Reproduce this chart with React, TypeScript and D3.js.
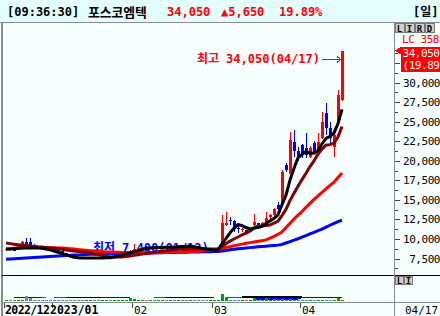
import React from 'react';
import * as d3 from 'd3';

// ---- data ----
const open = [8650,8700,8650,8600,8700,9650,9600,9200,9000,8900,8850,8800,
8700,8550,8400,8200,8000,7800,7650,7550,7500,7550,7600,7550,7500,7600,7650,7600,7750,7900,8100,8300,
8500,8750,8900,8950,8900,8950,8900,8950,9000,8950,9050,9000,9100,9050,8900,8950,8850,8750,8650,8600,
8650,8650,8800,11800,12400,12300,11450,11100,11100,10950,11800,12000,11700,11600,12800,13000,14300,14550,19450,18300,22450,21300,
22000,21600,20500,22250,21400,22900,26100,24200,21750,25050,27700];
const high = [8800,8750,8700,8750,9700,10100,10150,9300,9050,8950,8900,8850,
8750,8600,8450,8250,8050,7850,7700,7600,7600,7650,7650,7600,7650,7700,7700,7800,7950,8150,8350,8550,
9400,8950,9000,9050,9000,9050,9000,9100,9100,9100,9150,9150,9200,9100,9000,9000,8900,8800,8700,8700,
8750,8800,13100,13400,12800,12400,11600,11400,11200,11400,13200,12100,12200,13500,13200,14000,14700,18800,19700,23700,23900,21800,
22100,23550,21900,22500,23550,26230,27380,24950,23400,29040,34050];
const low = [8600,8600,8550,8550,8650,9000,9150,8950,8850,8800,8750,8700,
8500,8350,8150,7950,7750,7600,7500,7450,7400,7500,7500,7450,7450,7550,7550,7550,7700,7850,8050,8250,
8450,8700,8800,8850,8800,8850,8800,8900,8900,8900,8950,8950,9000,8850,8850,8800,8700,8600,8550,8550,
8600,8600,8750,11600,11800,10950,10800,10950,10700,10900,11700,11400,11600,11500,12600,12900,13600,14400,18500,18300,20500,20000,
20400,20350,20300,20900,21200,22800,23290,22270,20480,24900,27600];
const close = [8700,8650,8600,8700,9550,9050,9250,9000,8900,8850,8800,8750,
8550,8400,8200,8000,7800,7650,7550,7500,7550,7600,7550,7500,7600,7650,7600,7750,7900,8100,8300,8500,
8750,8900,8950,8900,8950,8900,8950,9000,8950,9050,9000,9100,9050,8900,8950,8850,8750,8650,8600,8650,
8650,8700,12000,12100,12250,11550,11300,11300,10900,11300,12200,11550,12100,12700,13000,13800,13800,18600,18800,22650,21300,20500,
20750,20750,21600,21100,22400,24950,24200,22900,23300,28400,34050];

const ma5 = [8700,8720,8750,8800,8830,8850,8850,8850,8830,8800,8700,8600,
8450,8300,8150,8000,7800,7650,7600,7570,7550,7550,7550,7560,7570,7580,7600,7700,7800,7950,8100,8220,
8350,8500,8650,8780,8850,8880,8900,8920,8930,8950,8980,9000,9030,9050,9100,9000,8900,8800,8720,8650,
8600,8650,9370,10070,10790,11360,11840,11700,11460,11270,11400,11450,11610,11970,12310,12630,13080,14380,15600,17530,19030,20370,
20800,21190,20980,20940,21320,22160,22850,23110,23550,24750,26570];
const ma10 = [9470,9400,9330,9260,9200,9150,9100,9050,9000,8980,8920,8860,
8800,8740,8670,8600,8530,8460,8390,8320,8260,8210,8100,8000,7900,7800,7700,7680,7680,7700,7750,7830,
7900,7980,8060,8140,8210,8280,8350,8420,8500,8570,8640,8700,8720,8730,8740,8740,8740,8730,8720,8720,
8710,8700,9070,9390,9720,9990,10245,10510,10740,11005,11360,11645,11655,11715,11790,12015,12265,12995,13785,14920,15830,16725,
17590,18395,19255,19985,20845,21480,22020,22045,22245,23035,24365];
const ma20 = [8680,8750,8820,8880,8910,8920,8930,8930,8920,8910,8900,8890,
8870,8850,8830,8800,8750,8700,8650,8600,8550,8500,8450,8390,8360,8340,8320,8300,8290,8280,8270,8260,
8250,8240,8230,8220,8210,8220,8240,8260,8280,8300,8320,8340,8360,8380,8400,8420,8440,8470,8520,8570,
8620,8660,8780,8900,9020,9130,9240,9340,9440,9530,9620,9700,9780,9870,10100,10330,10600,10890,11450,12000,12550,13050,
13500,14050,14550,15050,15500,15950,16400,16850,17250,17850,18430];
const ma60 = [7400,7430,7470,7500,7530,7570,7600,7630,7670,7700,7730,7760,
7790,7820,7850,7880,7910,7940,7960,7990,8010,8030,8050,8080,8090,8100,8110,8120,8130,8140,8150,8160,
8170,8180,8190,8210,8220,8230,8240,8250,8260,8270,8280,8290,8300,8310,8320,8330,8340,8350,8360,8370,
8380,8390,8450,8530,8610,8690,8740,8790,8840,8890,8940,8990,9030,9080,9120,9170,9210,9300,9480,9660,9840,10020,
10230,10430,10640,10840,11050,11260,11500,11750,11990,12200,12400];

const volume = [1.5,1.5,1.5,1.5,1.5,5,3,1.5,1.5,1.5,1.5,1.5,
1.5,1.5,1.5,1.5,1.5,1.5,1.5,1.5,1.5,1.5,1.5,1.5,1.5,1.5,1.5,1.5,1.5,1.5,1.5,3,
2,1.5,1.5,1.5,1.5,1.5,1.5,1.5,1.5,1.5,1.5,1.5,1.5,1.5,1.5,1.5,1.5,1.5,1.5,1.5,
1.5,1.5,7,4,1.5,1.5,1.5,1.5,1.5,1.5,3,1.5,1.5,3,1.5,2.5,1.5,2.5,1.5,2.5,1.5,1.5,
1.5,1.5,1.5,1.5,1.5,1.5,1.5,1.5,1.5,3,1.5];
const N = null;
const volMaBlue = [N,N,3.5,3.5,3.5,3.5,3.5,3.5,3.5,3.5,N,N,N,N,N,N,N,N,N,N,N,N,N,N,
3.5,3.5,3.5,3.5,3.5,3.5,3.5,3.5,N,N,N,N,N,N,N,N,N,N,N,N,N,N,N,N,N,N,3.5,3.5,3.5,
N,N,N,N,N,N,N,N,N,2.2,2.2,2.2,2.2,2.2,2.2,2.2,2.2,2.2,2.2,2.2,2.2,
3.5,3.5,3.5,3.5,3.5,3.5,3.5,3.5,3.5,3.5,3.5];
const volMaRed = [N,N,N,N,N,N,N,N,N,3.5,3.5,N,3.5,3.5,3.5,3.5,N,N,N,N,N,N,N,N,N,N,N,N,N,N,N,N,N,N,N,N,N,
3.5,3.5,3.5,3.5,N,N,N,N,N,N,N,N,N,N,N,N,N,N,3.5,3.5,3.5,3.5,3.5,
N,N,N,N,N,N,N,N,N,N,N,N,N,N,N,N,N,N,N,N,N,N,N,N,N];
const volMaBlack = [N,N,N,N,N,N,N,N,N,N,N,N,N,N,N,3.5,3.5,3.5,3.5,3.5,3.5,3.5,3.5,3.5,3.5,
N,N,N,N,N,N,N,N,N,N,N,N,N,N,N,3.5,3.5,3.5,3.5,3.5,3.5,3.5,3.5,3.5,3.5,3.5,3.5,
N,N,N,N,N,N,N,3.8,3.8,3.8,3.8,3.8,3.8,3.8,3.8,3.8,3.8,3.8,3.8,3.8,3.8,3.8,3.8,
N,N,N,N,N,N,N,N,N,N];

const priceTicks = [7500,10000,12500,15000,17500,20000,22500,25000,27500,30000];
const minorTicks = d3.range(6250, 34000, 1250);
const dateTickIdx = [0,12,32,52,74];
const dateTickLabels = ['2022/12','2023/01','02','03','04'];
const lastDateLabel = '04/17';
const headerTime = '[09:36:30]';
const headerName = '포스코엠텍';
const headerPrice = '34,050';
const headerChange = '▲5,650';
const headerRate = '19.89%';
const highNote = ['최고', '34,050(04/17)'];
const lowNote = ['최저', '7,400(01/12)'];
const highIdx = 84;

const MONO = "'DejaVu Sans Mono', 'Noto Sans CJK KR', monospace";
const KR = "'Noto Sans CJK KR', 'DejaVu Sans', sans-serif";

export default function App() {
  const W = 440, H = 316;
  const n = close.length;
  const x = d3.scaleLinear().domain([0, n - 1]).range([6, 342]);
  const y = d3.scaleLinear().domain([7500, 30000]).range([258.5, 82.5]);
  const vy = d3.scaleLinear().domain([0, 24]).range([301, 277]);
  const line = (arr: number[]) =>
    d3.line<number>().x((_, i) => x(i)).y((v) => y(v))(arr) || '';
  const vline = (arr: (number | null)[]) =>
    d3.line<number | null>().defined((v) => v !== null).x((_, i) => x(i)).y((v) => vy(v as number))(arr) || '';
  const idx = d3.range(n);
  const hx = x(highIdx);
  const fit = { letterSpacing: -0.45 } as React.CSSProperties;

  return (
    <svg width={W} height={H} style={{ position: 'absolute', left: 0, top: 0, display: 'block' }}
      shapeRendering="crispEdges">
      <rect x={0} y={0} width={W} height={H} fill="#f6fffe" />
      {/* header */}
      <rect x={0} y={0} width={W} height={22} fill="#e4fdfd" />
      <line x1={0} x2={W} y1={22.5} y2={22.5} stroke="#8a8a8a" strokeWidth={1.5} />
      <line x1={1.5} x2={1.5} y1={22} y2={H} stroke="#8a8a8a" strokeWidth={2} />
      <text x={7} y={16} fontFamily={MONO} fontWeight="bold" fontSize={12} fill="#000">{headerTime}</text>
      <text x={88} y={16.5} fontFamily={KR} fontWeight="bold" fontSize={12.8} fill="#000">{headerName}</text>
      <text x={167} y={16} fontFamily={MONO} fontWeight="bold" fontSize={12} fill="#ff0000">{headerPrice}</text>
      <text x={221} y={16} fontFamily={MONO} fontWeight="bold" fontSize={12} fill="#ff0000">{headerChange}</text>
      <text x={279} y={16} fontFamily={MONO} fontWeight="bold" fontSize={12} fill="#ff0000">{headerRate}</text>
      <text x={413} y={16} fontFamily={MONO} fontWeight="bold" fontSize={12} fill="#000">[일]</text>

      {/* low note (under lines) */}
      <text x={93} y={252} fontWeight="bold" fontSize={12} fill="#0000ff">
        <tspan fontFamily={KR}>{lowNote[0]}</tspan>
        <tspan fontFamily={MONO} dx={7}>{lowNote[1]}</tspan>
      </text>

      {/* candles */}
      {idx.map((i) => {
        const up = close[i] >= open[i];
        const c = up ? '#ff0000' : '#0000ff';
        const top = y(Math.max(open[i], close[i]));
        const bot = y(Math.min(open[i], close[i]));
        return (
          <g key={i}>
            <line x1={x(i) + 0.5} x2={x(i) + 0.5} y1={y(high[i])} y2={y(low[i])} stroke={c} strokeWidth={1} />
            <rect x={x(i) - 1} y={top} width={3} height={Math.max(1, bot - top)} fill={c} />
          </g>
        );
      })}

      {/* moving averages */}
      <g fill="none" strokeWidth={3} strokeLinejoin="round" shapeRendering="auto">
        <path d={line(ma60)} stroke="#0000ff" />
        <path d={line(ma20)} stroke="#ff0000" />
        <path d={line(ma10)} stroke="#800000" />
        <path d={line(ma5)} stroke="#000000" />
      </g>

      {/* high note */}
      <text x={197} y={63} fontWeight="bold" fontSize={12} fill="#ff0000">
        <tspan fontFamily={KR}>{highNote[0]}</tspan>
        <tspan fontFamily={MONO} dx={7}>{highNote[1]}</tspan>
      </text>
      <line x1={322} x2={340} y1={59.5} y2={59.5} stroke="#ff0000" strokeWidth={1} />
      <path d={`M${hx - 5},${56.5} L${hx - 1},${59.5} L${hx - 5},${62.5}`} fill="none" stroke="#ff0000" strokeWidth={1} />

      {/* separators */}
      <line x1={2} x2={W} y1={275.5} y2={275.5} stroke="#000" strokeWidth={1.5} />
      <line x1={2} x2={W} y1={302.5} y2={302.5} stroke="#8a8a8a" strokeWidth={1.5} />
      <line x1={394.5} x2={394.5} y1={23} y2={H} stroke="#8a8a8a" strokeWidth={1.5} />

      {/* volume */}
      <g fill="none" strokeWidth={1.5}>
        <path d={vline(volMaBlue)} stroke="#0000ff" />
        <path d={vline(volMaRed)} stroke="#ff0000" />
        <path d={vline(volMaBlack)} stroke="#000000" />
      </g>
      {idx.map((i) => (
        <rect key={'v' + i} x={x(i) - 1} y={vy(volume[i])} width={3} height={vy(0) - vy(volume[i])}
          fill={close[i] >= open[i] ? '#00a000' : '#4a9a9a'} />
      ))}

      {/* price axis */}
      {minorTicks.map((v) => {
        const major = v % 2500 === 0;
        const yy = Math.round(y(v)) + 0.5;
        if (yy < 35 || yy > 272) return null;
        return <line key={'t' + v} x1={395} x2={major ? 400 : 398} y1={yy} y2={yy} stroke="#444" strokeWidth={1} />;
      })}
      {priceTicks.map((v) => (
        <text key={'l' + v} x={440} y={y(v) + 4} textAnchor="end" fontFamily={MONO} fontSize={11} fill="#000" style={fit}>
          {d3.format(',')(v)}
        </text>
      ))}

      {/* current price box */}
      <text x={402} y={43} fontFamily={MONO} fontSize={11} fill="#ff0000" style={fit}>LC 358</text>
      <rect x={401} y={47} width={40} height={25} fill="#ff0000" />
      <path d={`M395,${y(close[n - 1])} L401,${y(close[n - 1]) - 4} L401,${y(close[n - 1]) + 4}Z`} fill="#ff0000" />
      <text x={402.5} y={57} fontFamily={MONO} fontSize={11} fill="#fff" style={fit}>{headerPrice}</text>
      <text x={402.5} y={69} fontFamily={MONO} fontSize={11} fill="#fff" style={fit}>(19.89</text>

      {/* buttons */}
      {['L', 'I', 'R', 'D'].map((t, k) => (
        <g key={t}>
          <rect x={395 + k * 10} y={23.5} width={9} height={9} fill="#d4d0c8" stroke="#777" strokeWidth={1} />
          <text x={399.5 + k * 10} y={31.5} textAnchor="middle" fontFamily={MONO} fontWeight="bold" fontSize={9} fill="#000">{t}</text>
        </g>
      ))}
      {['L', 'I'].map((t, k) => (
        <g key={'b' + t}>
          <rect x={395.5 + k * 9} y={276.5} width={8} height={8} fill="#d4d0c8" stroke="#777" strokeWidth={1} />
          <text x={399.5 + k * 9} y={284} textAnchor="middle" fontFamily={MONO} fontWeight="bold" fontSize={9} fill="#000">{t}</text>
        </g>
      ))}

      {/* date axis */}
      {dateTickIdx.map((ti, k) => (
        <g key={'d' + k}>
          <line x1={x(ti) - 1.5} x2={x(ti) - 1.5} y1={303} y2={308} stroke="#444" strokeWidth={1} />
          <text x={k === 0 ? 5 : k === 1 ? 50 : x(ti)} y={314} fontFamily={MONO} fontWeight={k < 2 ? 'bold' : 'normal'}
            fontSize={k < 2 ? 11.5 : 11} fill="#000" style={k === 0 ? { letterSpacing: -0.6 } : undefined}>{dateTickLabels[k]}</text>
        </g>
      ))}
      <text x={405} y={314} fontFamily={MONO} fontSize={11} fill="#000">{lastDateLabel}</text>
    </svg>
  );
}
